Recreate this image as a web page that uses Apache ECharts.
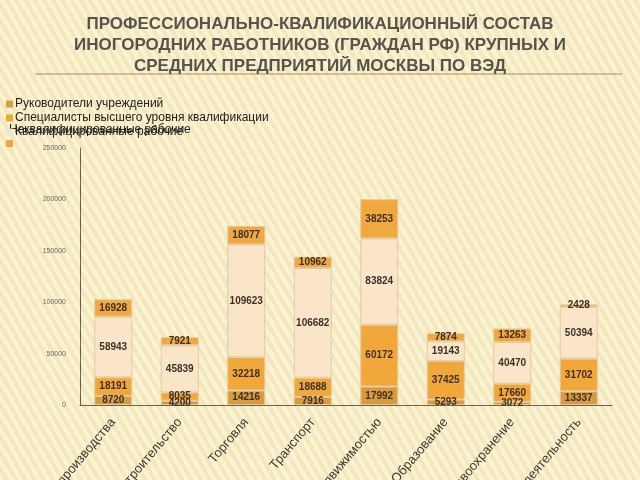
<!DOCTYPE html>
<html><head><meta charset="utf-8">
<script src="https://cdn.jsdelivr.net/npm/echarts@6/dist/echarts.min.js"></script>
<style>
html,body{margin:0;padding:0;}
body{width:640px;height:480px;background:#f6ecc4;background-image:repeating-linear-gradient(60deg,rgba(255,255,240,0.35) 0px,rgba(255,255,240,0.35) 4px,rgba(230,210,150,0.18) 4px,rgba(230,210,150,0.18) 8px);}
#c{width:640px;height:480px;}
</style></head>
<body><div id="c"></div>
<script>
const categories = ['Обрабатывающие производства','Строительство','Торговля','Транспорт','Операции с недвижимостью','Образование','Здравоохранение','Прочая деятельность'];
const seriesNames = ['Руководители учреждений','Специалисты высшего уровня квалификации','Квалифицированные рабочие','Неквалифицированные рабочие'];
const managers = [8720, 4200, 14216, 7916, 17992, 5293, 3072, 13337];
const specialists = [18191, 8035, 32218, 18688, 60172, 37425, 17660, 31702];
const skilled = [58943, 45839, 109623, 106682, 83824, 19143, 40470, 50394];
const unskilled = [16928, 7921, 18077, 10962, 38253, 7874, 13263, 2428];
const yTicks = [0, 50000, 100000, 150000, 200000, 250000];

const colors = ['#d89a3c','#f2a73a','#fbe5c8','#f1a83e'];
const legendColors = ['#d6a040','#f0a830','#efe6d2','#f0a83e'];
const values = [managers, specialists, skilled, unskilled];

const chart = echarts.init(document.getElementById('c'), null, {renderer:'canvas'});
chart.setOption({
  backgroundColor: 'transparent',
  animation: false,
  title: {
    text: 'ПРОФЕССИОНАЛЬНО-КВАЛИФИКАЦИОННЫЙ СОСТАВ\nИНОГОРОДНИХ РАБОТНИКОВ (ГРАЖДАН РФ) КРУПНЫХ И\nСРЕДНИХ ПРЕДПРИЯТИЙ МОСКВЫ ПО ВЭД',
    left: 'center', top: 9,
    textStyle: {fontFamily: 'Liberation Sans', fontSize: 17, fontWeight: 'bold', color: '#57534d', lineHeight: 21, align: 'center'}
  },
  graphic: [
    {type:'line', shape:{x1:35, y1:74, x2:622, y2:74}, style:{stroke:'#b58a5a', lineWidth:1}},
    {type:'text', left: 9, top: 124, style:{text: seriesNames[3], fontFamily:'Liberation Sans', fontSize:12, fill:'#222'}}
  ],
  legend: {
    orient: 'vertical', left: 1, top: 93,
    itemWidth: 7, itemHeight: 7, itemGap: 2,
    icon: 'rect',
    itemStyle: {borderWidth: 0},
    data: seriesNames.map((n,i)=>({name:n, itemStyle:{color: legendColors[i], borderWidth:0}})),
    formatter: function(n){ return n === seriesNames[3] ? '' : n; },
    textStyle: {fontFamily: 'Liberation Sans', fontSize: 12, color: '#222', padding:[0,0,0,-3]},
    selectedMode: false
  },
  grid: {left: 80, right: 28, top: 148, bottom: 75, outerBoundsMode: 'none', containLabel: false},
  xAxis: {
    type: 'category', data: categories,
    axisLine: {lineStyle: {color: '#6b6250'}},
    axisTick: {show: false},
    axisLabel: {rotate: 50, interval: 0, margin: 15, fontFamily: 'Liberation Sans', fontSize: 13, color: '#3a3530'}
  },
  yAxis: {
    type: 'value', min: yTicks[0], max: yTicks[yTicks.length-1], interval: 50000,
    axisLine: {show: true, lineStyle: {color: '#6b6250'}},
    axisTick: {show: false},
    splitLine: {show: false},
    axisLabel: {fontFamily: 'Liberation Sans', fontSize: 7, color: '#6b6560', margin: 14, formatter: function(v){ return String(v); }}
  },
  series: values.map((v,i)=>({
    name: seriesNames[i], type: 'bar', stack: 'total', barWidth: 38,
    data: v,
    itemStyle: {color: colors[i], borderColor: '#e3c9a0', borderWidth: 1},
    label: {show: true, position: 'inside', fontFamily: 'Liberation Sans', fontSize: 10, fontWeight: 'bold', color: '#3c3026'}
  }))
});
</script></body></html>
